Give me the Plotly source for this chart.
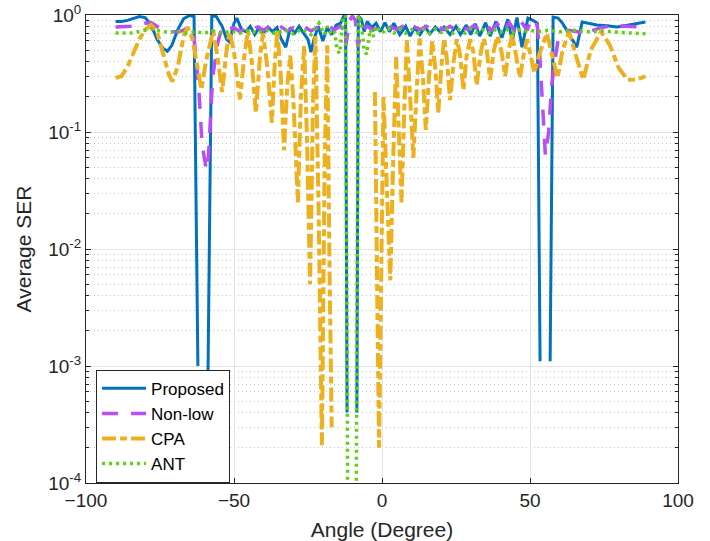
import plotly.graph_objects as go

# ---------------- data ----------------
prop_ang = [-90, -88, -86, -84, -82, -80, -78, -76, -74, -72.5, -71, -69, -67, -65, -63.5, -62.2,
            -60.5,
            -58.8, -57.5, -56, -54, -52.5, -51.5, -50, -49, -47.5, -46, -44.5, -43, -41.5, -40,
            -38.5, -37, -35.5, -34, -32.5, -31, -29.5, -28, -26.5, -25, -24, -23, -21.5, -20,
            -18.5, -17, -15.5, -14, -13, -12.3, -11.8,
            -10,
            -8.5, -8.0, -7, -6, -5, -3.5, -2, -0.5, 1, 2.5, 4, 6, 8, 9.5, 11, 12.8, 14.5, 16.2,
            18, 19.6, 21, 23, 25, 26.5, 28.5, 30, 31.5, 33, 35, 36.5, 38.5, 40.5, 42.5, 44,
            45.6, 47.3, 49.3, 51, 52.5, 53.4,
            55,
            56.8, 57.8, 59.5, 61, 63, 65.8, 67.6, 70, 72.6, 76, 79.4, 82, 85, 89]
prop_val = [0.88, 0.88, 0.90, 0.94, 0.97, 0.95, 0.82, 0.62, 0.52, 0.49, 0.55, 0.75, 0.93, 0.99, 0.97, 1.0e-3,
            None,
            8e-4, 0.99, 0.97, 0.80, 0.62, 0.59, 0.85, 0.94, 0.75, 0.72, 0.80, 0.68, 0.78, 0.70,
            0.79, 0.72, 0.78, 0.62, 0.53, 0.78, 0.70, 0.80, 0.70, 0.62, 0.48, 0.62, 0.80, 0.60,
            0.78, 0.68, 0.82, 0.85, 0.97, 0.98, 4e-4,
            None,
            4e-4, 0.98, 0.92, 0.72, 0.88, 0.78, 0.85, 0.72, 0.86, 0.72, 0.85, 0.68, 0.80, 0.66,
            0.78, 0.68, 0.79, 0.69, 0.79, 0.72, 0.79, 0.68, 0.80, 0.68, 0.82, 0.68, 0.84, 0.66,
            0.86, 0.66, 0.88, 0.64, 0.92, 0.60, 0.95, 0.53, 0.94, 0.90, 0.85, 1.1e-3,
            None,
            1.1e-3, 0.96, 0.94, 0.85, 0.70, 0.53, 0.87, 0.84, 0.82, 0.81, 0.79, 0.81, 0.84, 0.87]

nonlow_ang = [-90, -87, -85, -82, -80, -78, -76, -74, -72, -69, -67, -65.9, -64.5, -63.5, -61.8, -60.8,
              -59.5, -58.9, -57.8, -57.2, -55.5, -54, -52, -50, -48, -46, -44, -42, -40, -38,
              -36, -34, -32, -30, -28, -26, -24, -22, -20, -18, -16, -14, -13, -12.2, -11, -10,
              -9, -8.1, -7, -5, -3, -1, 1, 3, 5, 7, 9, 11, 13, 15, 17, 19, 21, 23, 25, 27, 29,
              31, 33, 35, 37, 39, 41, 43, 45, 47, 49, 50.3, 51.5, 52.5, 53.3, 54.2, 55.2, 56.3,
              57.3, 58.4, 59.5, 61, 63, 66.2, 68, 70, 74, 78, 82, 86, 89]
nonlow_val = [0.79, 0.79, 0.80, 0.82, 0.85, 0.86, 0.80, 0.74, 0.72, 0.72, 0.74, 0.79, 0.76, 0.65, 0.215, 0.08,
              0.05, 0.047, 0.154, 0.295, 0.576, 0.80, 0.76, 0.78, 0.72, 0.78, 0.74, 0.79, 0.74,
              0.80, 0.74, 0.79, 0.73, 0.78, 0.74, 0.79, 0.73, 0.78, 0.74, 0.80, 0.75, 0.80, 0.75,
              0.55, 0.90, 0.98, 0.90, 0.53, 0.75, 0.80, 0.74, 0.79, 0.74, 0.79, 0.75, 0.80, 0.74,
              0.79, 0.75, 0.80, 0.74, 0.79, 0.75, 0.80, 0.74, 0.80, 0.75, 0.81, 0.74, 0.82, 0.74,
              0.84, 0.72, 0.86, 0.72, 0.88, 0.74, 0.90, 0.93, 0.80, 0.45, 0.15, 0.063, 0.10, 0.25,
              0.41, 0.61, 0.70, 0.74, 0.72, 0.67, 0.72, 0.78, 0.81, 0.80, 0.80, 0.79, 0.79]

cpa_ang = [-90, -88, -86, -84, -82, -80, -78, -76, -74, -72, -70.8, -69, -67, -65.7, -64, -62.2,
           -61, -59.5, -57, -55.5, -54, -52.5, -51.5, -50, -48, -46.5, -45.3, -44, -42.6, -41.2,
           -40.2, -38.7, -37.2, -36.2, -35.3, -34.2, -33.1, -32, -31, -30, -28.4, -27.4, -26.3,
           -25.3, -24.3, -23.3, -22.5, -21.4, -20.3, -19.4, -18.5, -17.8, -17.0,
           -10,
           -2.4, -1.0, 0.5, 1.8, 2.8, 3.8, 4.8, 5.7, 6.6, 7.5, 8.4, 9.5, 10.6, 11.7, 12.7, 13.8,
           14.8, 15.9, 17.0, 18.0, 19.0, 20.0, 21.0, 22.0, 23.0, 24.2, 25.3, 26.4, 27.5, 28.6,
           29.8, 30.9, 32.0, 33.2, 34.3, 35.4, 36.5, 37.8, 39.0, 40.3, 41.6, 42.8, 44.0, 45.3,
           46.6, 47.8, 49.0, 50.2, 51.5, 53, 55.7, 57.5, 59.3, 61, 63.2, 65.5, 68, 70.5, 74,
           77, 80, 83, 86, 89]
cpa_val = [0.29, 0.30, 0.36, 0.47, 0.62, 0.75, 0.82, 0.72, 0.48, 0.31, 0.27, 0.36, 0.66, 0.79, 0.62, 0.33,
           0.23, 0.40, 0.74, 0.42, 0.22, 0.50, 0.72, 0.48, 0.19, 0.45, 0.74, 0.40, 0.145, 0.45,
           0.70, 0.35, 0.12, 0.40, 0.74, 0.30, 0.07, 0.25, 0.45, 0.20, 0.025, 0.20, 0.55,
           0.08, 0.005, 0.18, 0.66, 0.02, 2.1e-4, 0.05, 0.55, 0.01, 3.0e-4,
           None,
           0.22, 2.0e-4, 0.20, 0.03, 0.0054, 0.06, 0.44, 0.10, 0.025, 0.15, 0.61, 0.20, 0.06, 0.22,
           0.63, 0.30, 0.104, 0.30, 0.60, 0.35, 0.145, 0.35, 0.63, 0.40, 0.187, 0.40, 0.62, 0.45,
           0.228, 0.45, 0.62, 0.48, 0.25, 0.45, 0.63, 0.50, 0.278, 0.50, 0.66, 0.50, 0.30, 0.50,
           0.68, 0.45, 0.29, 0.45, 0.62, 0.45, 0.32, 0.45, 0.70, 0.45, 0.29, 0.50, 0.72, 0.45,
           0.28, 0.50, 0.72, 0.55, 0.35, 0.28, 0.28, 0.30]

ant_ang = [-90, -85, -81, -78, -75, -72, -69, -66, -63, -60, -57, -54, -51, -48, -45, -42, -39,
           -36, -33, -30, -27, -24, -21.3, -19.5, -18.5, -17, -16, -15.2, -14.3, -13, -12.3, -11.5,
           -10,
           -8.8, -8.0, -7, -6, -5.2, -4, -3, -2, 0, 2, 4, 6, 8, 10, 12, 14, 16, 18, 20, 22, 24,
           26, 28, 30, 32, 34, 36, 38, 40, 42, 44, 46, 48, 50, 53, 56, 60, 65, 70, 75, 80, 85, 89]
ant_val = [0.70, 0.70, 0.73, 0.76, 0.73, 0.71, 0.73, 0.70, 0.72, 0.70, 0.73, 0.70, 0.73, 0.70, 0.74,
           0.70, 0.74, 0.69, 0.75, 0.69, 0.76, 0.68, 0.85, 0.68, 0.80, 0.68, 0.72, 0.50, 0.47, 0.98,
           0.99, 2e-5,
           None,
           2e-5, 1.0, 0.85, 0.50, 0.46, 0.75, 0.65, 0.80, 0.70, 0.77, 0.70, 0.76, 0.70, 0.75, 0.70,
           0.76, 0.70, 0.76, 0.71, 0.76, 0.70, 0.75, 0.70, 0.76, 0.71, 0.75, 0.70, 0.75, 0.71, 0.76,
           0.70, 0.75, 0.72, 0.74, 0.72, 0.74, 0.72, 0.74, 0.72, 0.73, 0.71, 0.70, 0.69]

y_tick_vals = [1e-4, 1e-3, 1e-2, 1e-1, 1]
y_tick_text = ["10<sup>-4</sup>", "10<sup>-3</sup>", "10<sup>-2</sup>", "10<sup>-1</sup>", "10<sup>0</sup>"]
x_tick_vals = [-100, -50, 0, 50, 100]

# ---------------- figure ----------------
FONT = "Liberation Sans, Arial, Helvetica, sans-serif"
AX = "#262626"

fig = go.Figure()
fig.add_trace(go.Scatter(x=prop_ang, y=prop_val, name="Proposed", mode="lines",
                         line=dict(color="#0072BD", width=3), connectgaps=False))
fig.add_trace(go.Scatter(x=nonlow_ang, y=nonlow_val, name="Non-low", mode="lines",
                         line=dict(color="#B94EF7", width=3.5, dash="16px,13px"), connectgaps=False))
fig.add_trace(go.Scatter(x=cpa_ang, y=cpa_val, name="CPA", mode="lines",
                         line=dict(color="#EDB120", width=4, dash="14px,4px,7px,4px"), connectgaps=False))
fig.add_trace(go.Scatter(x=ant_ang, y=ant_val, name="ANT", mode="lines",
                         line=dict(color="#5FD114", width=3.5, dash="3px,4px"), connectgaps=False))

minor_vals = [m * 10.0 ** e for e in range(-4, 0) for m in range(2, 10)]

fig.update_layout(
    width=710, height=541,
    margin=dict(l=86, r=32, t=15, b=58),
    paper_bgcolor="white", plot_bgcolor="white",
    font=dict(family=FONT, size=19, color=AX),
    showlegend=True,
    legend=dict(x=0.017, y=0.242, xanchor="left", yanchor="top",
                bgcolor="white", bordercolor=AX, borderwidth=1,
                font=dict(family=FONT, size=17, color="#000000"),
                tracegroupgap=0, itemwidth=44),
    xaxis=dict(range=[-100, 100], tickmode="array", tickvals=x_tick_vals, automargin=False,
               ticks="inside", ticklen=5, tickcolor=AX, showline=True, linecolor=AX,
               linewidth=1, mirror="ticks", showgrid=True, gridcolor="#e4e4e4", gridwidth=1,
               zeroline=False, tickfont=dict(size=19, color=AX),
               title=dict(text="Angle (Degree)", font=dict(size=21, color=AX), standoff=12)),
    yaxis=dict(type="log", range=[-4, 0], tickmode="array", tickvals=y_tick_vals, automargin=False,
               ticktext=y_tick_text, ticks="inside", ticklen=5, tickcolor=AX,
               showline=True, linecolor=AX, linewidth=1, mirror="ticks",
               showgrid=True, gridcolor="#e4e4e4", gridwidth=1, zeroline=False,
               tickfont=dict(size=19, color=AX),
               minor=dict(tickmode="array", tickvals=minor_vals, ticks="inside", ticklen=3,
                          tickcolor=AX, showgrid=True, gridcolor="#c4c4c4",
                          griddash="1px,3px", gridwidth=1),
               title=dict(text="Average SER", font=dict(size=21, color=AX), standoff=10)),
)

fig.write_html("out.html", config={"displayModeBar": False},
               post_script="document.body.style.margin='0px';")
